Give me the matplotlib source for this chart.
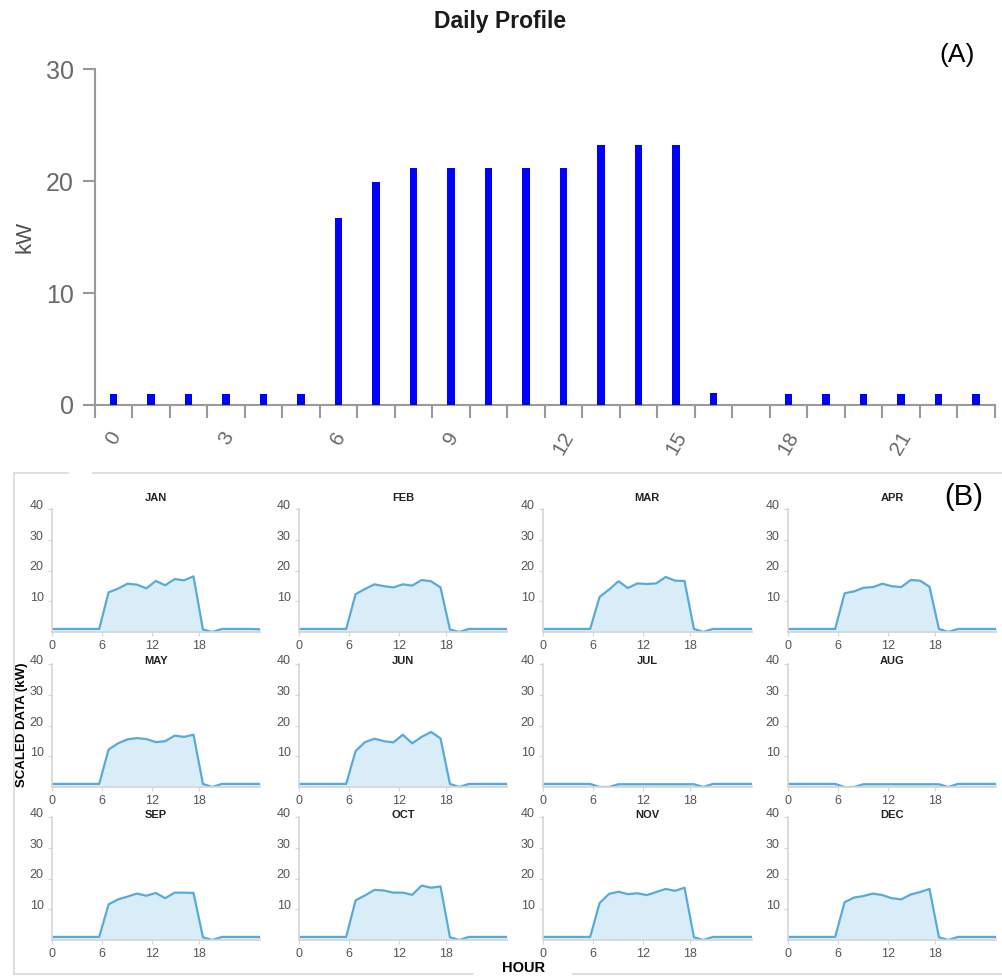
import matplotlib
matplotlib.use("Agg")
import matplotlib.pyplot as plt
from matplotlib.lines import Line2D
import numpy as np

# ---- data -------------------------------------------------------------
hours = list(range(24))
daily_kw = [1.0, 1.0, 1.0, 1.0, 1.0, 1.0, 16.7, 19.9, 21.2, 21.2, 21.2, 21.2,
            21.2, 23.2, 23.2, 23.2, 1.1, 0.0, 1.0, 1.0, 1.0, 1.0, 1.0, 1.0]
daily_tick_labels = ["0", "3", "6", "9", "12", "15", "18", "21"]

months = ["JAN", "FEB", "MAR", "APR", "MAY", "JUN",
          "JUL", "AUG", "SEP", "OCT", "NOV", "DEC"]
jan = [1, 1, 1, 1, 1, 1, 12.9, 14.1, 15.7, 15.4, 14.2, 16.6, 15.2, 17.2, 16.8, 18.1, 0.8, 0, 1, 1, 1, 1, 0.9, 1]
feb = [1, 1, 1, 1, 1, 1, 12.3, 14.0, 15.5, 14.9, 14.5, 15.5, 15.1, 16.9, 16.5, 14.5, 0.8, 0, 1, 1, 1, 1, 1, 1]
mar = [1, 1, 1, 1, 1, 1, 11.4, 13.8, 16.5, 14.3, 15.8, 15.6, 15.8, 17.9, 16.7, 16.6, 1.0, 0, 1, 1, 1, 1, 1, 1]
apr = [1, 1, 1, 1, 1, 1, 12.6, 13.2, 14.4, 14.6, 15.7, 14.9, 14.6, 16.9, 16.7, 14.7, 1.0, 0, 1, 1, 1, 1, 1, 1]
may = [1, 1, 1, 1, 1, 1, 12.2, 14.2, 15.5, 15.9, 15.6, 14.6, 14.9, 16.7, 16.3, 17.0, 1.0, 0, 1, 1, 1, 1, 1, 1]
jun = [1, 1, 1, 1, 1, 1, 11.7, 14.6, 15.7, 14.9, 14.5, 17.0, 14.2, 16.3, 17.9, 15.8, 1.0, 0, 1, 1, 1, 1, 1, 1]
jul = [1, 1, 1, 1, 1, 1, 0, 0, 0.9, 0.9, 0.9, 0.9, 0.9, 0.9, 0.9, 0.9, 0.9, 0, 1, 1, 1, 1, 1, 1]
aug = [1, 1, 1, 1, 1, 1, 0, 0, 0.9, 0.9, 0.9, 0.9, 0.9, 0.9, 0.9, 0.9, 0.9, 0, 1, 1, 1, 1, 1, 1]
sep = [1, 1, 1, 1, 1, 1, 11.6, 13.2, 14.1, 15.1, 14.4, 15.3, 13.6, 15.4, 15.4, 15.3, 0.9, 0, 1, 1, 1, 1, 1, 1]
oct_ = [1, 1, 1, 1, 1, 1, 12.9, 14.5, 16.3, 16.1, 15.4, 15.4, 14.7, 17.7, 17.0, 17.4, 0.9, 0, 1, 1, 1, 1, 1, 1]
nov = [1, 1, 1, 1, 1, 1, 12.0, 15.0, 15.7, 14.9, 15.2, 14.6, 15.6, 16.6, 16.0, 17.0, 0.9, 0, 1, 1, 1, 1, 1, 1]
dec = [1, 1, 1, 1, 1, 1, 12.3, 13.8, 14.3, 15.1, 14.6, 13.6, 13.2, 14.8, 15.6, 16.6, 0.9, 0, 1, 1, 1, 1, 1, 1]
monthly = [jan, feb, mar, apr, may, jun, jul, aug, sep, oct_, nov, dec]
month_tick_labels = ["0", "6", "12", "18"]
month_y_ticks = [10, 20, 30, 40]

# ---- layout helpers -----------------------------------------------------
W, H = 1003, 976
fig = plt.figure(figsize=(W / 100, H / 100), dpi=100)
SANS = ["Liberation Sans", "DejaVu Sans"]


def px_axes(x0, y0, x1, y1):
    return fig.add_axes([x0 / W, 1 - y1 / H, (x1 - x0) / W, (y1 - y0) / H])


# ---- (A) daily profile --------------------------------------------------
ax = px_axes(94.7, 69.3, 995, 405)
ax.bar(hours, daily_kw, width=0.2, color="#0000ff", zorder=3)
ax.set_xlim(-0.5, 23.5)
ax.set_ylim(0, 30)
for s in ["top", "right"]:
    ax.spines[s].set_visible(False)
for s in ["left", "bottom"]:
    ax.spines[s].set_color("#9a9a9a")
    ax.spines[s].set_linewidth(1.5)

ax.set_yticks([0, 10, 20, 30])
ax.tick_params(axis="y", length=9, width=1.5, color="#9a9a9a",
               labelsize=18, labelcolor="#6a6a6a", pad=6)
for lab in ax.get_yticklabels():
    lab.set_family(SANS)

ax.set_xticks(np.arange(-0.5, 24, 1), minor=True)
ax.tick_params(axis="x", which="minor", length=9, width=1.5, color="#9a9a9a")
ax.set_xticks(hours[::3], daily_tick_labels, rotation=60, ha="center", va="top",
              family=SANS)
ax.tick_params(axis="x", which="major", length=0, labelsize=15,
               labelcolor="#6a6a6a", pad=17)

fig.text(500.5 / W, 1 - 28 / H, "Daily Profile", ha="center", va="baseline",
         fontsize=16.5, fontweight="bold", family=SANS, color="#1a1a1a")
fig.text(25 / W, 1 - 237 / H, "kW", rotation=90, ha="center", va="center",
         fontsize=16, family=SANS, color="#505050")
fig.text(957 / W, 1 - 55 / H, "(A)", ha="center", va="center", fontsize=19,
         family=SANS, color="black")

# ---- (B) monthly panels -------------------------------------------------
col_x = [52, 299, 543, 788]
row_top = [509, 664, 817]
title_y = [498, 661, 815]
month_tick_pos = [0, 5.3, 10.6, 15.6]
panel_w, panel_h = 208.5, 123

for i, (name, vals) in enumerate(zip(months, monthly)):
    r, c = divmod(i, 4)
    x0, y0 = col_x[c], row_top[r]
    m = px_axes(x0, y0, x0 + panel_w, y0 + panel_h)
    m.fill_between(hours, vals, color="#d9edf8", lw=0)
    m.plot(hours, vals, color="#58abd8", lw=1.6)
    m.set_xlim(0, 22.1)
    m.set_ylim(0, 40)
    for s in ["top", "right"]:
        m.spines[s].set_visible(False)
    for s in ["left", "bottom"]:
        m.spines[s].set_color("#d6d6d6")
        m.spines[s].set_linewidth(1.2)
    m.set_yticks(month_y_ticks, [str(v) for v in month_y_ticks], va="baseline",
                 family=SANS)
    m.set_xticks(month_tick_pos, month_tick_labels, family=SANS)
    m.tick_params(length=3, color="#d6d6d6", labelsize=9,
                  labelcolor="#555555", pad=3)
    fig.text((x0 + panel_w / 2) / W, 1 - title_y[r] / H, name, ha="center",
             va="center", fontsize=8, fontweight="bold", family=SANS,
             color="#222222")

fig.text(22 / W, 1 - 725 / H, "SCALED DATA (kW)", rotation=90, ha="center",
         va="center", fontsize=9.5, fontweight="bold", family=SANS)
fig.text(524 / W, 1 - 968 / H, "HOUR", ha="center", va="center",
         fontsize=10.5, fontweight="bold", family=SANS)
fig.text(964 / W, 1 - 497 / H, "(B)", ha="center", va="center", fontsize=21,
         family=SANS, color="black")

# light frame around the monthly block
frame = dict(color="#d9d9d9", lw=1.2, transform=fig.transFigure)
for xs, ys in [([14, 14], [473, 974]), ([14, 68], [473, 473]),
               ([93, 1003], [473, 473]), ([14, 473], [974, 974]),
               ([573, 1003], [974, 974])]:
    fig.add_artist(Line2D([x / W for x in xs], [1 - y / H for y in ys], **frame))

fig.savefig("out.png", dpi=100)
